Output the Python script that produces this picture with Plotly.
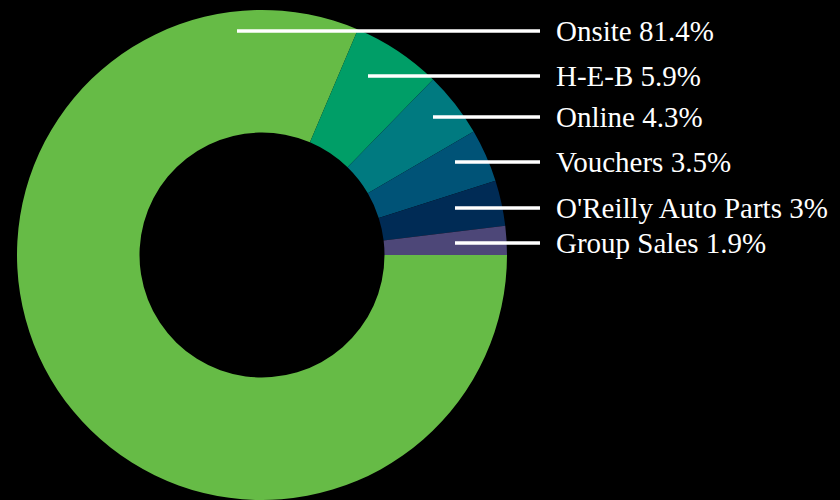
import plotly.graph_objects as go

labels = ["Onsite", "H-E-B", "Online", "Vouchers", "O'Reilly Auto Parts", "Group Sales"]
values = [81.4, 5.9, 4.3, 3.5, 3, 1.9]
colors = ["#66bb46", "#009e67", "#007a80", "#005377", "#002b55", "#4d4778"]

# label placement in pixels (line start x, row y)
line_x0 = [237, 368, 433, 455, 455, 455]
label_y = [31, 76, 117, 162, 208, 243]

W, H = 840, 500

fig = go.Figure()

fig.add_trace(
    go.Pie(
        labels=labels,
        values=values,
        marker=dict(colors=colors, line=dict(width=0)),
        hole=0.5,
        sort=False,
        direction="clockwise",
        rotation=90,
        textinfo="none",
        hoverinfo="label+percent",
        domain=dict(x=[17 / W, 507 / W], y=[0, 490 / H]),
        showlegend=False
    )
)

for lab, val, x0, y in zip(labels, values, line_x0, label_y):

    fig.add_shape(
        type="line",
        xref="paper",
        yref="paper",
        x0=x0 / W,
        x1=540 / W,
        y0=1 - y / H,
        y1=1 - y / H,
        line=dict(color="white", width=3.5)
    )

    fig.add_annotation(
        x=554 / W,
        y=1 - y / H,
        xref="paper",
        yref="paper",
        text=f"{lab} {val:g}%",
        showarrow=False,
        xanchor="left",
        yanchor="middle",
        font=dict(family="Liberation Serif", size=29, color="white")
    )

fig.update_layout(
    width=W,
    height=H,
    margin=dict(l=0, r=0, t=0, b=0),
    paper_bgcolor="black",
    plot_bgcolor="black",
    showlegend=False
)

fig.write_html(
    "out.html",
    config=dict(displayModeBar=False),
    post_script="document.body.style.margin='0';"
)
